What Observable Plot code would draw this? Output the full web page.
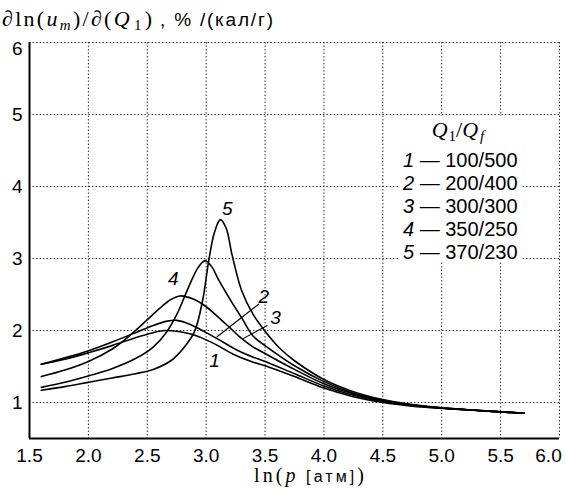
<!DOCTYPE html>
<html><head><meta charset="utf-8">
<script src="https://cdn.jsdelivr.net/npm/d3@7"></script>
<script src="https://cdn.jsdelivr.net/npm/@observablehq/plot@0.6"></script>
<style>
html,body{margin:0;padding:0;background:#fff;}
#chart{width:565px;height:489px;}
</style></head><body><div id="chart"></div>
<script>
// ---- data ----
const xTicks = [1.5, 2.0, 2.5, 3.0, 3.5, 4.0, 4.5, 5.0, 5.5, 6.0];
const yTicks = [1, 2, 3, 4, 5, 6];
const curveIds = ["1", "2", "3", "4", "5"];
const ratioLabels = ["100/500", "200/400", "300/300", "350/250", "370/230"];

const curve1 = [[1.6,1.53],[1.8,1.6],[2.0,1.69],[2.2,1.79],[2.4,1.9],[2.55,1.97],[2.65,2.0],[2.75,1.99],[2.87,1.95],[3.0,1.87],[3.1,1.79],[3.23,1.67],[3.4,1.56],[3.5,1.51],[3.75,1.36],[4.0,1.2],[4.25,1.08],[4.5,1.0],[4.75,0.95],[5.0,0.92],[5.25,0.895],[5.5,0.87],[5.7,0.85]];
const curve2 = [[1.6,1.53],[1.8,1.62],[2.0,1.72],[2.2,1.84],[2.4,1.97],[2.55,2.07],[2.67,2.13],[2.75,2.14],[2.87,2.08],[3.0,1.97],[3.1,1.88],[3.26,1.73],[3.4,1.63],[3.5,1.57],[3.75,1.4],[4.0,1.23],[4.25,1.1],[4.5,1.01],[4.75,0.96],[5.0,0.92],[5.25,0.895],[5.5,0.87],[5.7,0.85]];
const curve3 = [[1.6,1.36],[1.8,1.45],[2.0,1.57],[2.2,1.74],[2.3,1.86],[2.4,2.0],[2.5,2.15],[2.6,2.3],[2.7,2.43],[2.78,2.48],[2.9,2.43],[3.0,2.33],[3.1,2.19],[3.2,2.04],[3.3,1.89],[3.4,1.77],[3.5,1.68],[3.75,1.46],[4.0,1.26],[4.25,1.12],[4.5,1.02],[4.75,0.965],[5.0,0.925],[5.25,0.895],[5.5,0.87],[5.7,0.85]];
const curve4 = [[1.6,1.21],[1.8,1.28],[2.0,1.37],[2.2,1.47],[2.4,1.61],[2.55,1.77],[2.66,1.97],[2.75,2.22],[2.85,2.6],[2.93,2.87],[2.99,2.97],[3.05,2.88],[3.1,2.72],[3.2,2.44],[3.3,2.18],[3.4,1.92],[3.5,1.79],[3.75,1.51],[4.0,1.29],[4.25,1.13],[4.5,1.03],[4.75,0.965],[5.0,0.925],[5.25,0.895],[5.5,0.87],[5.7,0.85]];
const curve5 = [[1.6,1.17],[1.8,1.22],[2.0,1.28],[2.2,1.34],[2.4,1.4],[2.55,1.46],[2.7,1.58],[2.8,1.74],[2.9,1.98],[2.97,2.42],[3.02,2.95],[3.07,3.36],[3.12,3.54],[3.17,3.42],[3.22,3.05],[3.3,2.56],[3.4,2.22],[3.5,1.99],[3.62,1.76],[3.75,1.58],[4.0,1.32],[4.25,1.15],[4.5,1.04],[4.75,0.97],[5.0,0.925],[5.25,0.895],[5.5,0.87],[5.7,0.85]];

// curve number labels placed on the chart (data coords)
const labelX = [3.07, 3.49, 3.59, 2.72, 3.18];
const labelY = [1.58, 2.46, 2.18, 2.72, 3.69];
// leader lines for labels 2 and 3
const leaderIds = ["2", "3"];
const leaderX1 = [3.448, 3.52];
const leaderY1 = [2.368, 2.07];
const leaderX2 = [3.09, 3.305];
const leaderY2 = [1.91, 1.88];

// ---- build tables ----
const curves = [curve1, curve2, curve3, curve4, curve5];
const lineData = curves.flatMap((c, i) => c.map(([x, y]) => ({id: curveIds[i], x, y})));
const labelData = curveIds.map((id, i) => ({id, x: labelX[i], y: labelY[i]}));
const leaderData = leaderIds.map((id, i) => ({id, x1: leaderX1[i], y1: leaderY1[i], x2: leaderX2[i], y2: leaderY2[i]}));

const sans = "'Liberation Sans', Arial, sans-serif";
const serif = "'Liberation Serif', 'DejaVu Serif', serif";
const gridStyle = {stroke: "#333", strokeOpacity: 1, strokeWidth: 1, strokeDasharray: "1.5,2"};
const fmtX = d3.format(".1f");
const fmtY = d3.format("d");

const chart = Plot.plot({
  width: 565, height: 489,
  marginLeft: 29, marginRight: 6, marginTop: 42, marginBottom: 51,
  style: {fontFamily: sans, fontSize: "19px", background: "#fff", color: "#000"},
  x: {domain: [1.5, 6.0]},
  y: {domain: [0.5, 6]},
  marks: [
    Plot.gridX(xTicks.filter(d => d > 1.5), gridStyle),
    Plot.gridY(yTicks, gridStyle),
    Plot.axisX(xTicks.filter(d => d < 6), {tickSize: 0, tickPadding: 10, tickFormat: fmtX, fontSize: 19, label: null}),
    Plot.axisX([6.0], {tickSize: 0, tickPadding: 10, tickFormat: fmtX, fontSize: 19, dx: -11, label: null}),
    Plot.axisY(yTicks.filter(d => d < 6), {tickSize: 0, tickPadding: 7, tickFormat: fmtY, fontSize: 19, label: null}),
    Plot.axisY([6], {tickSize: 0, tickPadding: 7, tickFormat: fmtY, fontSize: 19, dy: 6, label: null}),
    Plot.line(lineData, {x: "x", y: "y", z: "id", curve: "catmull-rom", stroke: "#000", strokeWidth: 1.6}),
    Plot.link(leaderData, {x1: "x1", y1: "y1", x2: "x2", y2: "y2", stroke: "#000", strokeWidth: 1.1}),
    Plot.text(labelData, {x: "x", y: "y", text: "id", fontStyle: "italic", fontSize: 19, fill: "#000"}),
    Plot.ruleX([1.5], {stroke: "#000", strokeWidth: 2}),
    Plot.ruleY([0.5], {stroke: "#000", strokeWidth: 2})
  ]
});
document.getElementById("chart").appendChild(chart);

// ---- text with math parts (title, x label, legend) ----
const svg = d3.select(chart);
function add(t, s, opts = {}) { const ts = t.append("tspan").text(s); for (const k in opts) ts.attr(k, opts[k]); return ts; }

// title (y-axis label)
const t1 = svg.append("text").attr("x", 2).attr("y", 26).attr("text-anchor", "start").attr("font-family", serif).attr("font-size", 22).attr("fill", "#000");
add(t1, "\u2202ln(");
add(t1, "u", {"font-style": "italic"});
add(t1, "m", {"font-style": "italic", "font-size": 15, dy: 4});
add(t1, ")/\u2202(", {dy: -4});
add(t1, "Q", {"font-style": "italic"});
add(t1, "1", {"font-size": 15, dy: 4, dx: 2});
add(t1, ")", {dy: -4, dx: 1});
t1.attr("textLength", 150).attr("lengthAdjust", "spacing");
svg.append("text").attr("x", 160).attr("y", 26).attr("text-anchor", "start").attr("font-family", sans).attr("font-size", 19).attr("fill", "#000")
  .attr("textLength", 113).attr("lengthAdjust", "spacing")
  .text(", % /(\u043a\u0430\u043b/\u0433)");

// x-axis label
const t2 = svg.append("text").attr("x", 254).attr("y", 482).attr("text-anchor", "start").attr("font-family", serif).attr("font-size", 20).attr("fill", "#000");
add(t2, "ln(");
add(t2, "p", {"font-style": "italic"});
add(t2, " [\u0430\u0442\u043c]", {"font-family": sans, "font-size": 16});
add(t2, ")");
t2.attr("textLength", 110).attr("lengthAdjust", "spacing");

// legend
const lg = svg.append("g");
lg.append("rect").attr("x", 400).attr("y", 116).attr("width", 122).attr("height", 146).attr("fill", "#fff");
const th = lg.append("text").attr("x", 458).attr("y", 137).attr("text-anchor", "middle").attr("font-family", serif).attr("font-size", 22).attr("fill", "#000");
add(th, "Q", {"font-style": "italic"});
add(th, "1", {"font-size": 15, dy: 4, dx: 1});
add(th, "/", {dy: -4});
add(th, "Q", {"font-style": "italic"});
add(th, "f", {"font-style": "italic", "font-size": 15, dy: 4, dx: 2});
curveIds.forEach((id, i) => {
  const r = lg.append("text").attr("x", 403).attr("y", 167 + i * 23).attr("text-anchor", "start").attr("font-family", sans).attr("font-size", 20).attr("fill", "#000");
  add(r, id, {"font-style": "italic"});
  add(r, " \u2014 " + ratioLabels[i]);
});
</script>
</body></html>
